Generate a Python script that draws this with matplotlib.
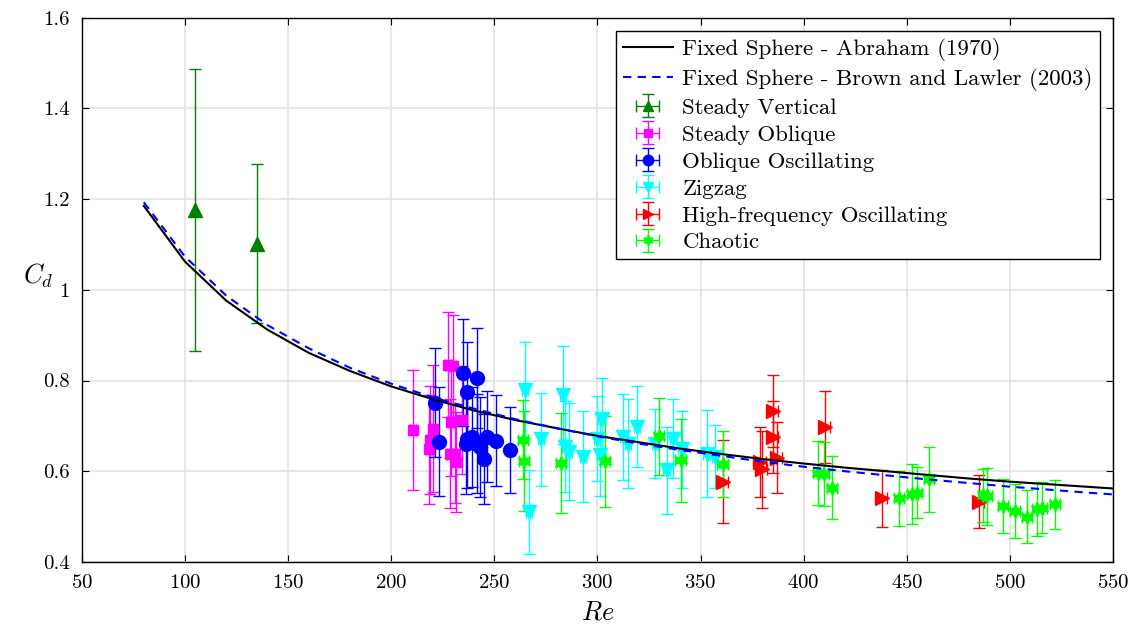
import numpy as np
import matplotlib
matplotlib.use('Agg')
import matplotlib.pyplot as plt

# correlation curves
re_curve = [80, 100, 120, 140, 160, 180, 200, 220, 240, 260, 280, 300, 320, 340,
            360, 380, 400, 420, 440, 460, 480, 500, 520, 540, 550]
cd_abraham = [1.185, 1.062, 0.976, 0.912, 0.861, 0.821, 0.787, 0.759, 0.734, 0.713,
              0.695, 0.678, 0.664, 0.650, 0.638, 0.627, 0.617, 0.608, 0.600, 0.592,
              0.584, 0.577, 0.571, 0.565, 0.562]
cd_brown = [1.193, 1.073, 0.987, 0.922, 0.871, 0.828, 0.793, 0.763, 0.738, 0.715,
            0.695, 0.677, 0.661, 0.647, 0.634, 0.621, 0.610, 0.600, 0.591, 0.582,
            0.574, 0.566, 0.559, 0.552, 0.549]

# Steady Vertical
sv_re = [104.8, 134.7]
sv_cd = [1.176, 1.102]
sv_err = [0.31, 0.175]

# Steady Oblique
so_re = [210.7, 218.5, 218.8, 220.4, 227.6, 230.0, 228.8, 228.5, 230.9, 231.2, 234.4]
so_cd = [0.691, 0.648, 0.669, 0.694, 0.835, 0.832, 0.709, 0.639, 0.639, 0.621, 0.713]
so_err = [0.133, 0.12, 0.12, 0.14, 0.115, 0.112, 0.12, 0.12, 0.11, 0.11, 0.12]

# Oblique Oscillating
oo_re = [221.2, 223.3, 234.6, 241.7, 236.5, 236.9, 239.0, 236.2, 241.4, 243.0,
         246.3, 250.8, 245.1, 257.6]
oo_cd = [0.751, 0.665, 0.817, 0.805, 0.774, 0.672, 0.676, 0.660, 0.661, 0.654,
         0.676, 0.667, 0.627, 0.647]
oo_err = [0.12, 0.12, 0.118, 0.11, 0.11, 0.11, 0.11, 0.11, 0.11, 0.11,
          0.10, 0.10, 0.10, 0.095]

# Zigzag
zz_re = [264.8, 266.9, 272.6, 283.1, 284.2, 286.3, 292.8, 299.6, 301.2, 302.0,
         312.5, 315.0, 319.3, 327.9, 333.5, 336.5, 340.8, 352.9, 357.0]
zz_cd = [0.779, 0.510, 0.670, 0.768, 0.654, 0.643, 0.632, 0.672, 0.636, 0.716,
         0.676, 0.661, 0.698, 0.661, 0.602, 0.672, 0.648, 0.639, 0.632]
zz_err = [0.105, 0.093, 0.103, 0.108, 0.10, 0.107, 0.10, 0.093, 0.09, 0.09,
          0.095, 0.098, 0.089, 0.076, 0.096, 0.088, 0.085, 0.095, 0.07]

# High-frequency Oscillating
hf_re = [361.0, 379.0, 379.6, 385.0, 385.3, 387.2, 410.3, 437.8, 485.0]
hf_cd = [0.577, 0.620, 0.604, 0.733, 0.675, 0.630, 0.698, 0.540, 0.533]
hf_err = [0.092, 0.077, 0.085, 0.079, 0.079, 0.079, 0.079, 0.063, 0.058]

# Chaotic
ch_re = [264.0, 264.4, 282.3, 303.6, 330.0, 340.3, 360.7, 407.0, 410.0, 413.6,
         446.2, 452.4, 455.1, 460.9, 487.1, 488.7, 496.8, 502.5, 508.4, 513.0,
         515.4, 521.9]
ch_cd = [0.669, 0.622, 0.619, 0.622, 0.677, 0.624, 0.616, 0.596, 0.594, 0.564,
         0.540, 0.549, 0.553, 0.582, 0.547, 0.545, 0.523, 0.512, 0.500, 0.516,
         0.520, 0.527]
ch_err = [0.087, 0.11, 0.11, 0.10, 0.085, 0.092, 0.072, 0.07, 0.07, 0.07,
          0.06, 0.066, 0.057, 0.071, 0.059, 0.063, 0.06, 0.059, 0.058, 0.058,
          0.057, 0.054]

plt.rcParams['font.family'] = 'serif'
plt.rcParams['font.serif'] = ['cmr10', 'DejaVu Serif']
plt.rcParams['mathtext.fontset'] = 'cm'
plt.rcParams['axes.formatter.use_mathtext'] = True

fig = plt.figure(figsize=(11.38, 6.3), dpi=100)
ax = fig.add_axes([0.072, 0.108, 0.906, 0.864])

ax.plot(re_curve, cd_abraham, color='k', lw=1.5, label='Fixed Sphere - Abraham (1970)', zorder=4)
ax.plot(re_curve, cd_brown, color='b', lw=1.5, ls=(0, (4, 3)),
        label='Fixed Sphere - Brown and Lawler (2003)', zorder=4)

hexagram = (6, 1, 0)
series = [
    (sv_re, sv_cd, sv_err, 0.5, '#008000', '^', 10, 'Steady Vertical'),
    (so_re, so_cd, so_err, 1.5, '#ff00ff', 's', 7.5, 'Steady Oblique'),
    (oo_re, oo_cd, oo_err, 1.5, '#0000ff', 'o', 10, 'Oblique Oscillating'),
    (zz_re, zz_cd, zz_err, 1.5, '#00ffff', 'v', 10, 'Zigzag'),
    (hf_re, hf_cd, hf_err, 2.5, '#ff0000', '>', 10, 'High-frequency Oscillating'),
    (ch_re, ch_cd, ch_err, 2.5, '#00ff00', hexagram, 10, 'Chaotic'),
]
for xs, ys, es, xe, c, m, ms, lab in series:
    ax.errorbar(xs, ys, yerr=es, xerr=xe, marker=m, ls='none', color=c, ecolor=c, ms=ms,
                mec=c, mfc=c, elinewidth=1, capsize=4, capthick=1,
                label=lab, zorder=3)

ax.set_xlim(50, 550)
ax.set_ylim(0.4, 1.6)
ax.set_xticks(np.arange(50, 551, 50))
ax.set_yticks(np.arange(0.4, 1.61, 0.2))
ax.set_yticklabels(['0.4', '0.6', '0.8', '1', '1.2', '1.4', '1.6'])
ax.grid(True, color='#e3e3e3', lw=1.2)
ax.set_axisbelow(True)
ax.tick_params(direction='in', top=True, right=True, labelsize=15, length=5)
ax.tick_params(axis='x', pad=9)
ax.tick_params(axis='y', pad=9)
for s in ax.spines.values():
    s.set_linewidth(1.0)

ax.set_xlabel('$Re$', fontsize=19, labelpad=6)
ax.set_ylabel('$C_d$', fontsize=19, rotation=0, labelpad=3)

leg = ax.legend(loc='upper right', bbox_to_anchor=(0.987, 0.975), fontsize=16.5,
                fancybox=False, edgecolor='k', framealpha=1, borderaxespad=0,
                handlelength=2.2, handletextpad=0.4, labelspacing=0.3,
                borderpad=0.3, markerscale=0.75)
leg.get_frame().set_linewidth(1.0)

fig.savefig('out.png', dpi=100)
